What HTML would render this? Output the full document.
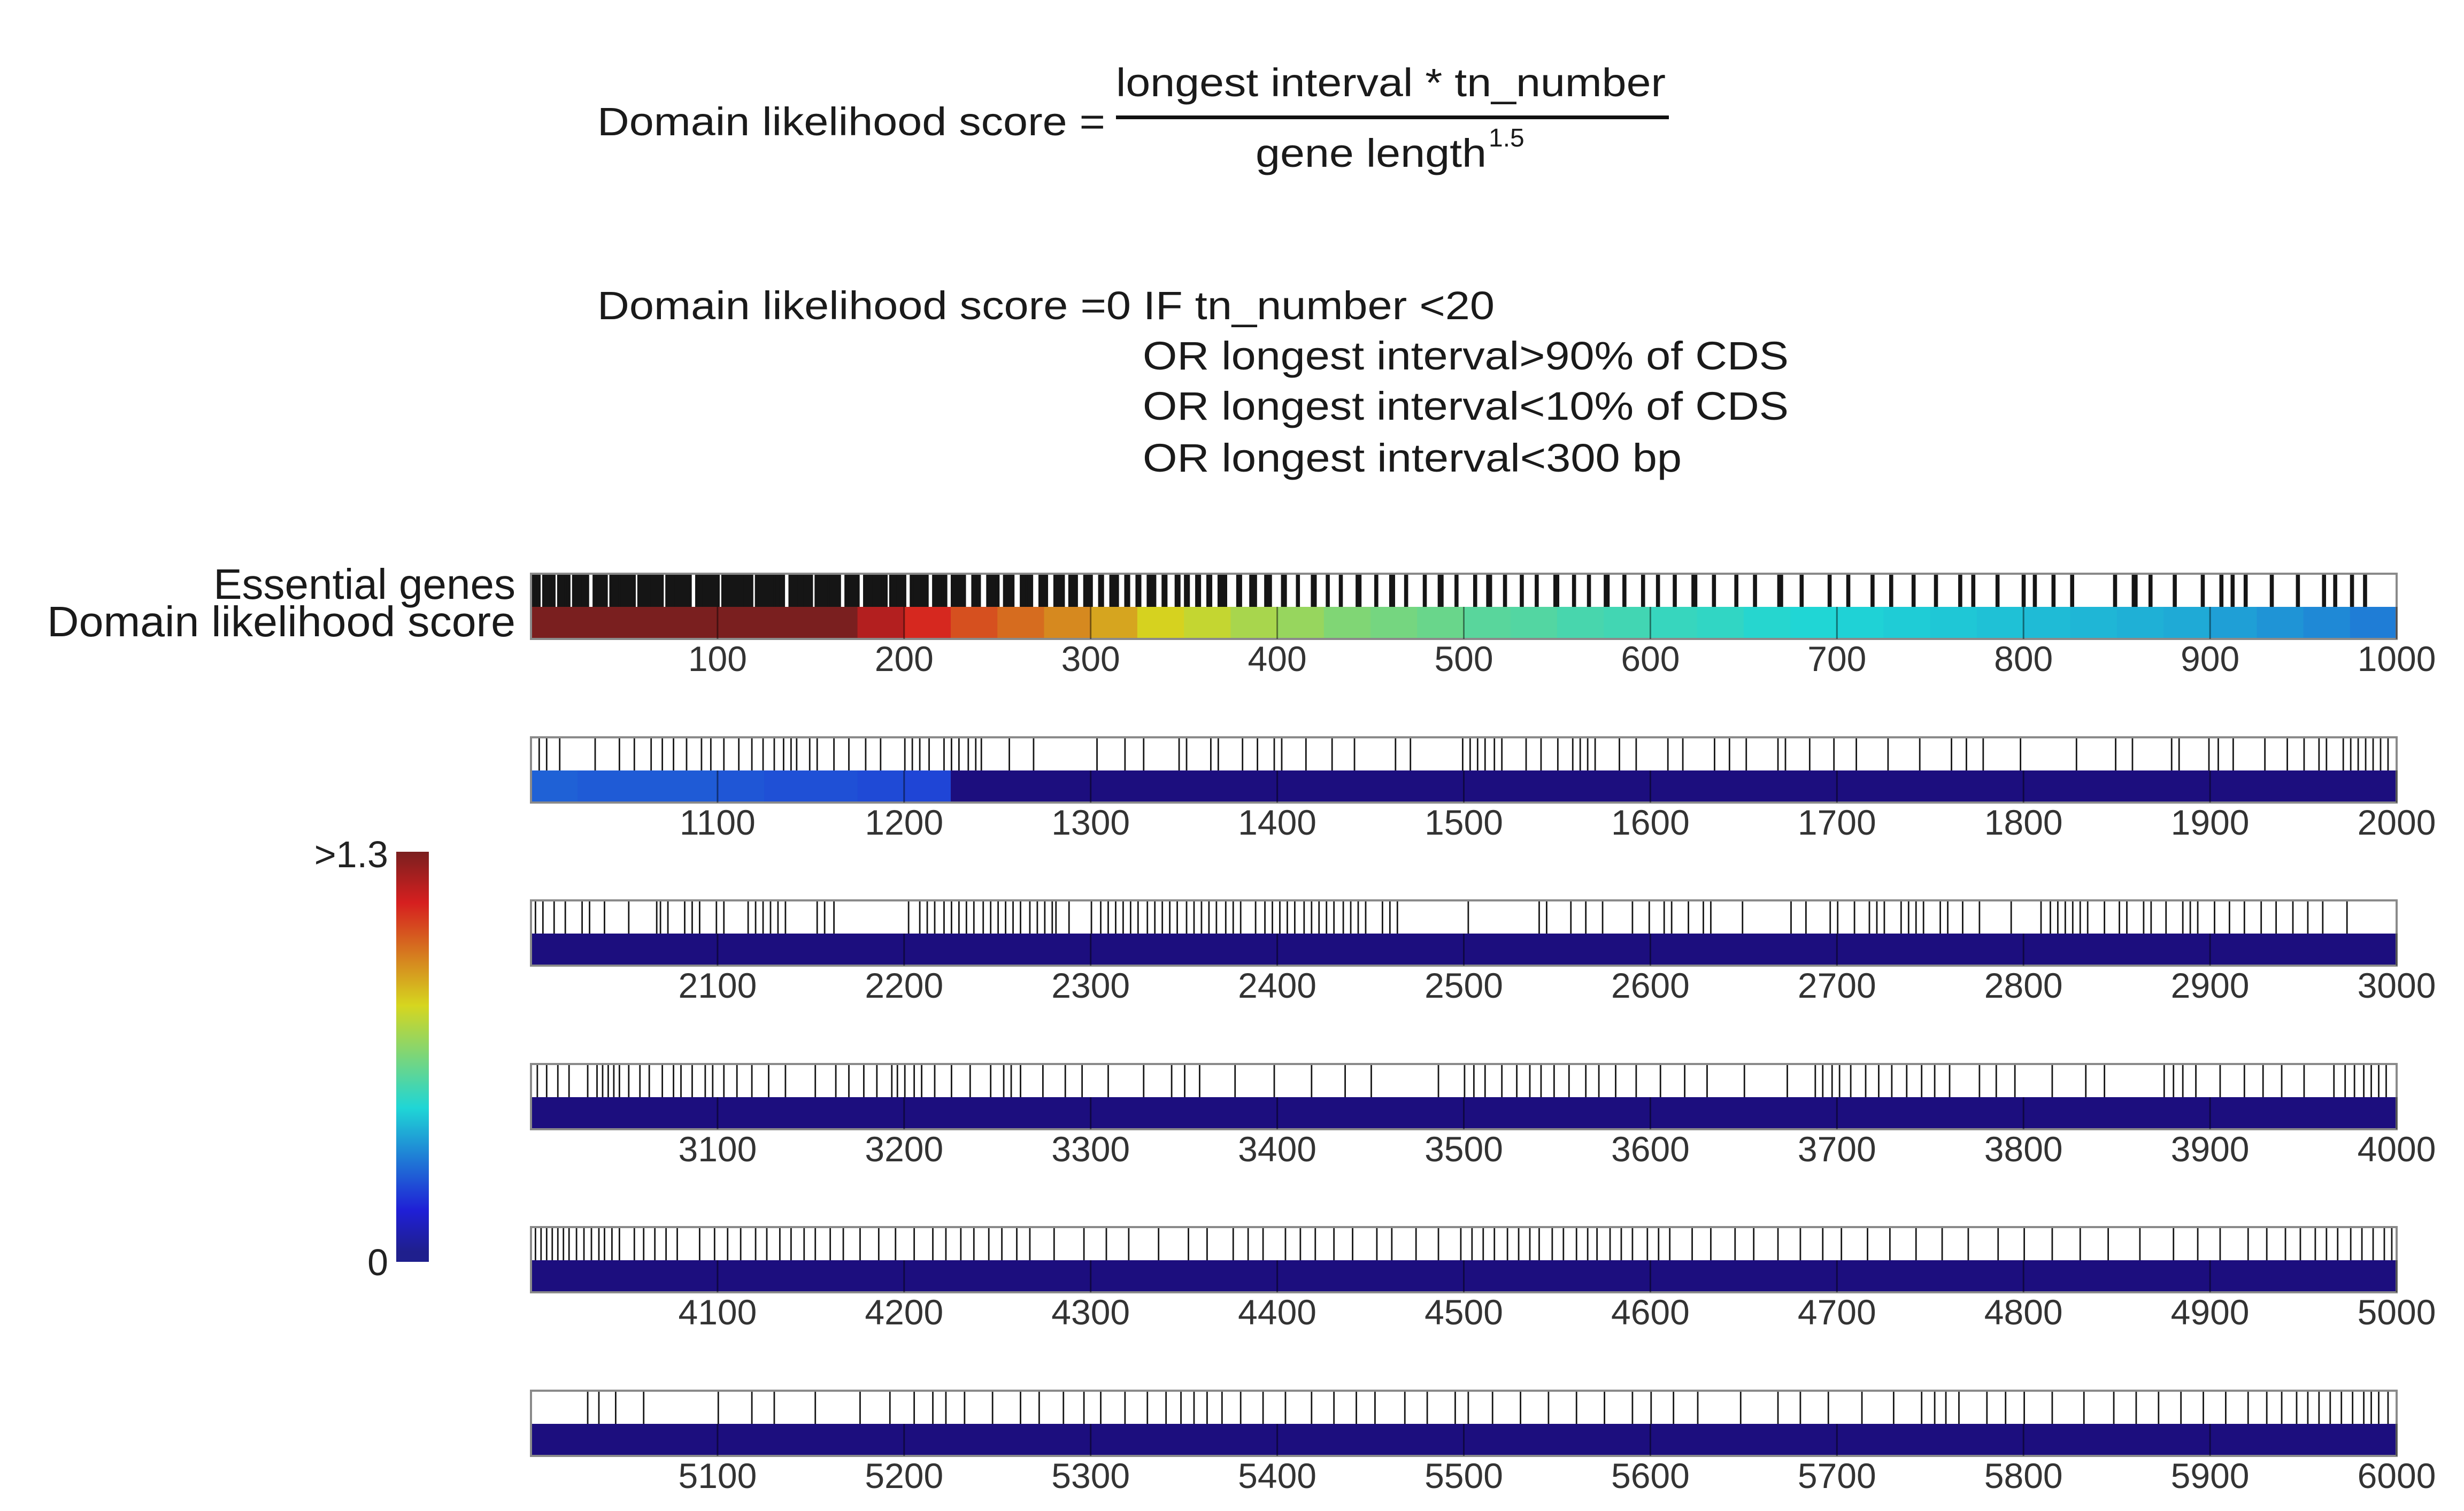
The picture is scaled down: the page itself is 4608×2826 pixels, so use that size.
<!DOCTYPE html>
<html><head><meta charset="utf-8"><style>
html,body{margin:0;padding:0;background:#fff;}
svg{display:block;font-family:"Liberation Sans",Arial,sans-serif;}
</style></head><body>
<svg id="fig" width="4608" height="2826" viewBox="0 0 4608 2826" xmlns="http://www.w3.org/2000/svg">
<g fill="#1a1a1a" font-size="74">
<text x="1117" y="253" textLength="950" lengthAdjust="spacingAndGlyphs">Domain likelihood score =</text>
<text x="2087" y="180" textLength="1028" lengthAdjust="spacingAndGlyphs">longest interval * tn_number</text>
<rect x="2087" y="216" width="1034" height="7" fill="#111"/>
<text x="2348" y="312" textLength="432" lengthAdjust="spacingAndGlyphs">gene length</text>
<text x="2784" y="274" font-size="48">1.5</text>
<text x="1117" y="597" textLength="1678" lengthAdjust="spacingAndGlyphs">Domain likelihood score =0 IF tn_number &lt;20</text>
<text x="2137" y="691" textLength="1208" lengthAdjust="spacingAndGlyphs">OR longest interval&gt;90% of CDS</text>
<text x="2137" y="785" textLength="1208" lengthAdjust="spacingAndGlyphs">OR longest interval&lt;10% of CDS</text>
<text x="2137" y="882" textLength="1008" lengthAdjust="spacingAndGlyphs">OR longest interval&lt;300 bp</text>
</g>
<text x="964" y="1120" font-size="80" text-anchor="end" fill="#1a1a1a">Essential genes</text>
<text x="964" y="1190" font-size="80" text-anchor="end" fill="#1a1a1a" textLength="876" lengthAdjust="spacingAndGlyphs">Domain likelihood score</text>
<g id="rows"></g>
<g id="cbar"></g>
</svg>
<script>
// scores per 25-gene bin (rank 0..1224); all later genes score 0
const scoreBins = [1.4,1.4,1.4,1.4,1.4,1.4,1.35,1.2,1.12,1.05,1.0,0.95,0.9,0.82,0.78,0.73,0.7,0.66,0.64,0.62,0.59,0.58,0.56,0.55,0.53,0.52,0.5,0.49,0.48,0.47,0.46,0.45,0.44,0.43,0.42,0.41,0.39,0.37,0.35,0.33,0.28,0.27,0.27,0.27,0.26,0.25,0.25,0.24,0.23];
const rowStarts = [0,1000,2000,3000,4000,5000];
const tickLabels = ['100','200','300','400','500','600','700','800','900','1000'];
const cbarMax = 1.3;
// essential genes: row-relative indices
const essRow1Runs = [[0,4],[6,12],[14,20],[22,30],[33,40],[42,55],[57,70],[72,85],[88,100],[102,118],[120,135],[138,150],[152,165],[168,175],[178,190],[192,200],[203,212],[215,222],[225,232],[236,240],[244,250],[253,258],[262,268],[272,276],[280,285],[288,292],[296,300],[304,306],[310,314],[318,320],[324,326],[330,334],[338,340],[345,347],[350,352],[356,358],[362,364],[368,372],[378,380],[385,388],[393,396],[402,404],[410,411],[418,420],[426,427],[433,434],[442,444],[452,453],[460,462],[468,469],[478,479],[486,488],[495,496],[505,506],[512,514],[521,522],[530,531],[538,539],[548,550],[558,559],[566,567],[575,577],[585,586],[595,596],[603,604],[612,613],[622,624],[633,634],[645,646],[655,656],[668,670],[680,681],[695,696],[705,706],[718,719],[728,729],[740,741],[752,753],[765,766],[772,773],[785,786],[799,800],[805,806],[815,816],[825,826],[848,849],[858,860],[867,868],[880,881],[895,896],[905,906],[911,912],[918,919],[932,933],[946,947],[960,961],[966,967],[975,976],[982,983]];
const essRow2 = [4,8,15,34,47,55,64,70,76,83,91,96,103,111,118,124,130,135,139,142,149,153,162,170,179,187,200,204,208,213,221,225,229,234,238,241,256,269,303,318,328,347,351,364,368,381,389,398,402,415,429,441,463,471,499,503,507,511,516,520,533,541,550,558,562,566,570,583,592,609,617,634,642,651,668,672,685,698,710,727,744,761,769,778,798,828,849,858,879,883,899,904,912,929,941,950,958,962,971,975,979,983,987,991,995];
const essRow3 = [2,6,12,18,27,31,39,52,67,69,73,82,86,90,99,103,116,120,124,128,132,136,153,157,162,202,208,212,216,221,225,229,233,237,242,246,250,254,258,262,267,271,275,279,281,288,300,305,309,313,317,321,325,330,334,338,342,346,351,355,359,363,367,372,376,380,388,393,397,401,405,409,414,418,422,426,430,435,439,443,447,456,460,464,502,540,544,557,565,574,590,599,607,611,620,628,632,649,675,683,696,700,709,717,721,725,734,738,742,746,755,759,767,776,793,809,814,818,822,826,830,834,843,851,855,864,868,876,885,889,893,902,910,918,927,935,944,952,960,973];
const essRow4 = [3,8,14,20,30,35,38,41,44,47,52,58,63,70,76,80,86,93,97,103,110,118,127,136,152,163,170,178,185,193,196,200,205,209,216,225,235,246,253,257,262,274,286,295,309,328,343,350,358,377,398,418,436,450,486,500,505,511,520,528,535,541,548,556,565,572,581,592,605,618,630,650,673,688,692,697,701,707,715,722,729,737,745,752,760,776,785,795,815,833,843,875,880,885,892,905,918,928,938,950,966,972,977,982,986,990,994];
const essRow5 = [2,5,8,11,14,17,20,24,28,32,36,39,43,47,55,60,66,72,78,90,98,105,112,120,126,133,139,146,152,160,167,176,186,195,205,215,222,230,237,245,252,260,267,280,296,308,320,336,352,362,376,384,392,404,412,420,430,440,453,461,474,486,498,504,510,516,523,529,535,540,547,553,560,566,571,578,584,590,598,604,610,622,632,645,655,668,680,692,702,716,728,742,756,770,786,800,815,830,845,862,880,893,905,920,930,940,948,956,962,968,975,981,987,993,997];
const essRow6 = [30,36,45,60,100,118,130,152,176,192,205,215,222,232,247,262,272,285,296,305,318,330,340,348,355,362,370,380,392,404,418,430,442,452,468,480,495,502,515,530,545,560,575,590,600,612,625,648,668,680,695,713,730,745,752,758,765,780,790,800,815,832,848,860,872,884,896,908,920,930,938,946,952,958,964,970,976,982,986,990,995];

const NS='http://www.w3.org/2000/svg';
const L=993, R=4482, W=R-L;
const rowTops=[1073,1379,1684,1990,2295,2601];
const topH=62, botH=60;
function xScale(i){return L + i*W/1000;}
function jet(v){
  let t=Math.max(0,Math.min(1,v/cbarMax));
  const c=x=>Math.max(0,Math.min(1,1.5-Math.abs(x)));
  let r=c(4*t-3), g=c(4*t-2), b=c(4*t-1);
  if(t<0.02) return 'rgb(28,14,126)';
  const f=x=>Math.round(255*(0.12+0.72*x));
  return `rgb(${f(r)},${f(g)},${f(b)})`;
}
function scoreOf(rank){const k=Math.floor(rank/25);return k<scoreBins.length?scoreBins[k]:0;}
function mk(tag,attrs,parent){const e=document.createElementNS(NS,tag);for(const k in attrs)e.setAttribute(k,attrs[k]);parent.appendChild(e);return e;}
const rowsG=document.getElementById('rows');
const ess=[essRow1Runs.flatMap(([a,b])=>{const o=[];for(let i=a;i<=b;i++)o.push(i);return o;}),essRow2,essRow3,essRow4,essRow5,essRow6];
const slot=W/1000;
rowStarts.forEach((start,ri)=>{
  const top=rowTops[ri];
  const g=mk('g',{},rowsG);
  
  
  let i=0;
  while(i<1000){
    const v=scoreOf(start+i); let j=i+1;
    while(j<1000 && scoreOf(start+j)===v) j++;
    const r=mk('rect',{x:xScale(i),y:top+topH,width:xScale(j)-xScale(i)+0.5,height:botH,fill:jet(v)},g);
    
    
    i=j;
  }
  ess[ri].forEach(idx=>{
    const r=mk('rect',{x:xScale(idx),y:top,width:ri===0?slot+0.6:slot*0.8,height:topH,fill:'#151515'},g);
    
    
  });
  const fr=mk('rect',{x:L,y:top,width:W,height:topH+botH,fill:'none',stroke:'#8a8a8a','stroke-width':4},g);
  
  
  tickLabels.forEach((lab,k)=>{
    const x=xScale((k+1)*100);
    const tl=mk('line',{x1:x,x2:x,y1:top+topH,y2:top+topH+botH,stroke:'rgba(0,0,0,0.45)','stroke-width':3},g);
    
    
    const t=mk('text',{x:x,y:top+182,'font-size':66,'text-anchor':'middle',fill:'#333'},g);
    t.textContent=String(start+Number(lab));
    
    
  });
});
const cb=document.getElementById('cbar');
const cbX=741,cbW=61,cbTop=1593,cbBot=2360,N=120;
const defs=mk('defs',{},cb);
const grad=mk('linearGradient',{id:'jetg',x1:0,y1:1,x2:0,y2:0},defs);
for(let k=0;k<=N;k++){mk('stop',{offset:k/N,'stop-color':jet(cbarMax*Math.max(k,3)/N)},grad);}
const cr=mk('rect',{x:cbX,y:cbTop,width:cbW,height:cbBot-cbTop,fill:'url(#jetg)'},cb);


const t1=mk('text',{x:726,y:1622,'font-size':70,'text-anchor':'end',fill:'#222'},cb);
t1.textContent='>'+cbarMax;


const t0=mk('text',{x:726,y:2385,'font-size':70,'text-anchor':'end',fill:'#222'},cb);
t0.textContent='0';


</script>
</body></html>
